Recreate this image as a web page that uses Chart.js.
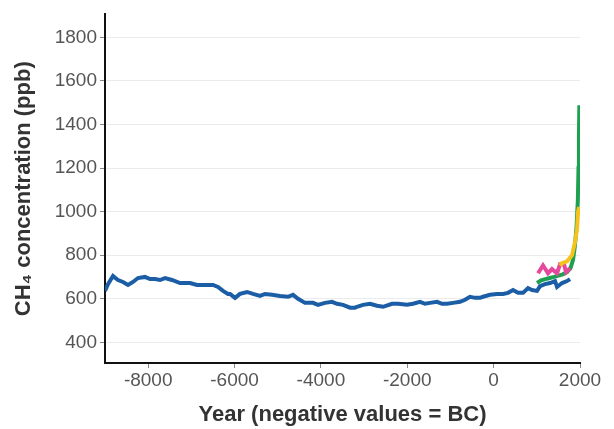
<!DOCTYPE html>
<html lang="en">
<head>
    <meta charset="UTF-8">
    <script src="https://cdn.jsdelivr.net/npm/chart.js"></script>
    <style>
        html, body { margin: 0; padding: 0; background: #fff; }
        #wrap { width: 614px; height: 429px; }
    </style>
    <title>CH4 concentration</title>
</head>
<body>
<div id="wrap"><canvas id="ch4Chart" width="614" height="429"></canvas></div>

<script>
    // valores
    const blueYears = [-9000, -8931, -8815, -8699, -8583, -8467, -8352, -8236, -8074, -7958, -7842, -7726, -7610, -7448, -7263, -7031, -6869, -6638, -6499, -6383, -6267, -6151,
        -6105, -5989, -5873, -5711, -5572, -5410, -5294, -5132, -4947, -4762, -4646, -4530, -4368, -4183, -4067, -3905, -3743, -3627, -3488, -3326, -3210,
        -3164, -3025, -2863, -2701, -2561, -2353, -2214, -2006, -1867, -1705, -1589, -1473, -1311, -1195, -1079, -940, -778, -662, -547, -431, -315,
        -245, -84, 78, 217, 333, 449, 565, 681, 796, 889, 1005, 1075, 1190, 1306, 1422, 1468, 1584, 1700, 1770];
    const blueValues = [636, 667, 704, 686, 677, 663, 677, 695, 700, 690, 690, 686, 695, 686, 672, 672, 663, 663, 663, 654, 636, 622,
        622, 604, 622, 631, 622, 613, 622, 618, 613, 609, 618, 600, 581, 581, 572, 581, 586, 577, 572, 559, 559,
        563, 572, 577, 568, 563, 577, 577, 572, 577, 586, 577, 581, 586, 577, 577, 581, 586, 595, 609, 604, 604,
        609, 618, 622, 622, 627, 640, 627, 627, 649, 640, 636, 658, 667, 672, 681, 654, 672, 681, 690];

    const greenYears = [1005, 1100, 1200, 1300, 1400, 1500, 1600, 1700, 1780, 1840, 1880, 1920, 1950, 1965, 1975, 1985];
    const greenValues = [672, 684, 690, 695, 700, 706, 712, 722, 740, 780, 840, 930, 1050, 1200, 1350, 1488];

    const pinkYears = [1028, 1144, 1260, 1352, 1468, 1537, 1630, 1677, 1770];
    const pinkValues = [717, 753, 717, 736, 717, 758, 758, 722, 740];

    const yellowYears = [1537, 1584, 1700, 1816, 1886, 1932, 1955, 1978];
    const yellowValues = [752, 763, 772, 800, 862, 921, 999, 1021];

    const xTicks = [-8000, -6000, -4000, -2000, 0, 2000];
    const yTicks = [400, 600, 800, 1000, 1200, 1400, 1600, 1800];

    function toPoints(xs, ys) {
        return xs.map((x, i) => ({ x: x, y: ys[i] }));
    }

    function serie(label, xs, ys, color, order) {
        return {
            label: label,
            data: toPoints(xs, ys),
            borderColor: color,
            backgroundColor: color,
            borderWidth: 4,
            pointRadius: 0,
            tension: 0,
            order: order
        };
    }

    const ctx = document.getElementById('ch4Chart').getContext('2d');
    new Chart(ctx, {
        type: 'line',
        data: {
            datasets: [
                serie('A', blueYears, blueValues, '#1b5ea6', 0),
                serie('B', yellowYears, yellowValues, '#f6c21c', 1),
                serie('C', pinkYears, pinkValues, '#e6489b', 2),
                serie('D', greenYears, greenValues, '#1da150', 3)
            ]
        },
        options: {
            responsive: false,
            animation: false,
            layout: { padding: { left: 0, right: 34, top: 10, bottom: 0 } },
            plugins: {
                legend: { display: false },
                tooltip: { enabled: false }
            },
            scales: {
                x: {
                    type: 'linear',
                    min: -9000,
                    max: 2000,
                    afterBuildTicks: s => { s.ticks = xTicks.map(v => ({ value: v })); },
                    afterFit: s => { s.height = 66; },
                    grid: { drawOnChartArea: false, tickLength: 5, tickColor: '#888' },
                    border: { color: '#111', width: 2 },
                    ticks: {
                        color: '#555',
                        font: { family: 'Liberation Sans', size: 19 },
                        padding: 1,
                        maxRotation: 0,
                        callback: v => String(v)
                    },
                    title: {
                        display: true,
                        text: 'Year (negative values = BC)',
                        color: '#333',
                        font: { family: 'Liberation Sans', size: 22, weight: 'bold' },
                        padding: { top: 0, bottom: 1 }
                    }
                },
                y: {
                    min: 305,
                    max: 1905,
                    afterBuildTicks: s => { s.ticks = yTicks.map(v => ({ value: v })); },
                    afterFit: s => { s.width = 105; },
                    grid: { color: '#ebebeb', lineWidth: 1, tickLength: 5, tickColor: '#888' },
                    border: { color: '#111', width: 2 },
                    ticks: {
                        color: '#555',
                        font: { family: 'Liberation Sans', size: 19 },
                        padding: 3,
                        callback: v => String(v)
                    },
                    title: {
                        display: true,
                        text: 'CH\u2084 concentration (ppb)',
                        color: '#333',
                        font: { family: 'Liberation Sans', size: 22, weight: 'bold' },
                        padding: { top: 11, bottom: 0 }
                    }
                }
            }
        }
    });
</script>
</body>
</html>
